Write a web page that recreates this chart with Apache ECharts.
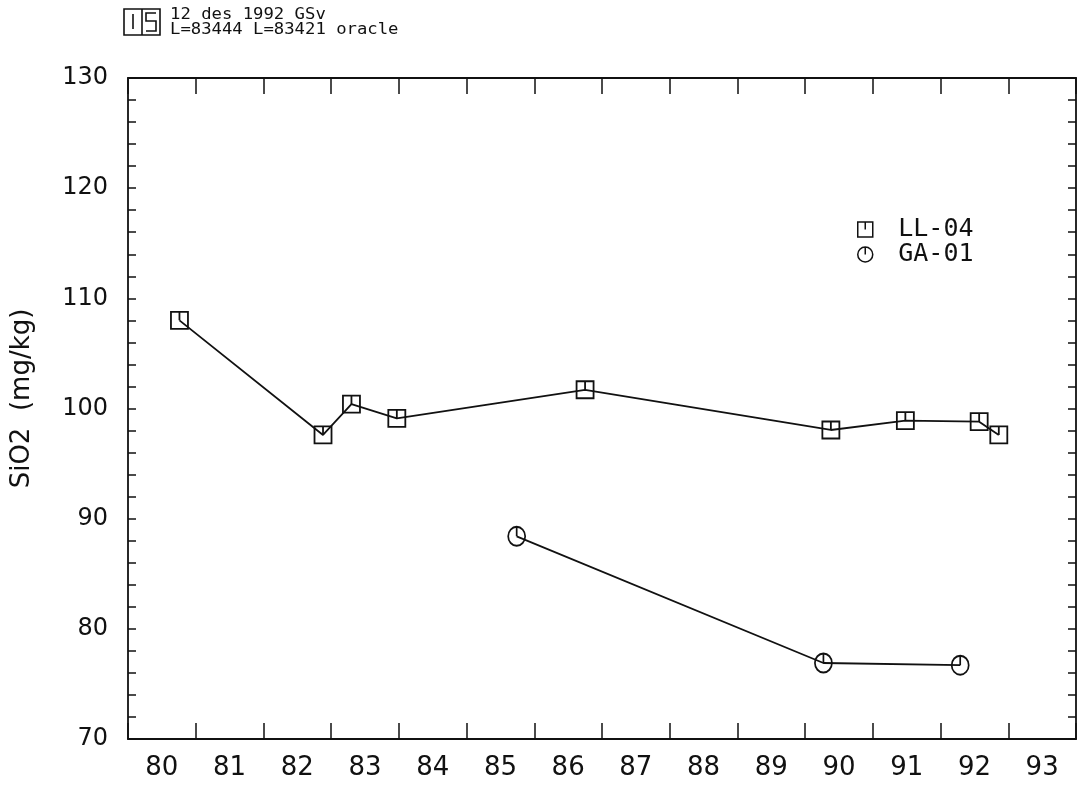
<!DOCTYPE html>
<html>
<head>
<meta charset="utf-8">
<script src="https://cdn.jsdelivr.net/npm/echarts@6/dist/echarts.min.js"></script>
<style>
html,body{margin:0;padding:0;background:#fff;}
#chart{width:1081px;height:789px;}
</style>
</head>
<body>
<div id="chart"></div>
<script>
// ---- data ----
const yearLabels = ['80','81','82','83','84','85','86','87','88','89','90','91','92','93'];
const ll04X = [80.76, 82.88, 83.30, 83.97, 86.75, 90.38, 91.48, 92.57, 92.86];
const ll04Y = [108.0, 97.6, 100.4, 99.1, 101.7, 98.05, 98.9, 98.8, 97.6];
const ga01X = [85.74, 90.27, 92.29];
const ga01Y = [88.4, 76.9, 76.7];
const seriesNames = ['LL-04', 'GA-01'];
const headerLine1 = '12 des 1992 GSv';
const headerLine2 = 'L=83444 L=83421 oracle';
const yAxisTitle = 'SiO2  (mg/kg)';

const squareSym = 'path://M0,0H10V10H0ZM5,0V5';
const circleSym = 'path://M0,5A5,5,0,1,1,10,5A5,5,0,1,1,0,5ZM5,0V5';

const ink = '#111';
const pairs = (xs, ys) => xs.map((x, i) => [x, ys[i]]);

const chart = echarts.init(document.getElementById('chart'));
const gridRect = {left: 128, top: 78, right: 5, bottom: 50};

chart.setOption({
  backgroundColor: '#fff',
  animation: false,
  textStyle: {fontFamily: 'DejaVu Sans', color: ink},
  grid: [
    Object.assign({containLabel: false}, gridRect),
    Object.assign({containLabel: false}, gridRect)
  ],
  legend: {
    orient: 'vertical',
    left: 852,
    top: 212,
    itemWidth: 46,
    itemHeight: 15,
    itemGap: 0,
    textStyle: {fontSize: 25, color: ink, fontFamily: 'DejaVu Sans Mono', lineHeight: 15, padding: [0, 0, 0, 5]},
    itemStyle: {color: 'rgba(0,0,0,0)', borderColor: ink, borderWidth: 1.5},
    data: [
      {name: seriesNames[0], icon: squareSym},
      {name: seriesNames[1], icon: circleSym}
    ]
  },
  xAxis: [
    {
      type: 'value', gridIndex: 0, min: 80, max: 94, interval: 1,
      show: false
    },
    {
      type: 'category', gridIndex: 1, position: 'bottom', data: yearLabels,
      boundaryGap: true,
      axisLine: {show: true, lineStyle: {color: ink, width: 1.8}},
      axisTick: {show: true, inside: true, length: 16, interval: 0, alignWithLabel: false, lineStyle: {color: ink, width: 1.5}},
      axisLabel: {show: true, interval: 0, fontSize: 26, color: ink, margin: 16, fontFamily: 'DejaVu Sans'},
      splitLine: {show: false}
    },
    {
      type: 'category', gridIndex: 1, position: 'top', data: yearLabels,
      boundaryGap: true,
      axisLine: {show: true, lineStyle: {color: ink, width: 1.8}},
      axisTick: {show: true, inside: true, length: 16, interval: 0, alignWithLabel: false, lineStyle: {color: ink, width: 1.5}},
      axisLabel: {show: false},
      splitLine: {show: false}
    }
  ],
  yAxis: [
    {
      type: 'value', gridIndex: 0, position: 'left', min: 70, max: 130, interval: 2,
      name: yAxisTitle, nameLocation: 'middle', nameGap: 93, nameRotate: 90,
      nameTextStyle: {fontSize: 26, color: ink, fontFamily: 'DejaVu Sans', padding: [0, 0, 0, 20]},
      axisLine: {show: true, lineStyle: {color: ink, width: 1.8}},
      axisTick: {show: true, inside: true, length: 8, lineStyle: {color: ink, width: 1.5}},
      axisLabel: {
        show: true, fontSize: 24, color: ink, margin: 20, fontFamily: 'DejaVu Sans',
        formatter: v => (v % 10 === 0 ? String(v) : '')
      },
      splitLine: {show: false}
    },
    {
      type: 'value', gridIndex: 0, position: 'right', min: 70, max: 130, interval: 2,
      axisLine: {show: true, lineStyle: {color: ink, width: 1.8}},
      axisTick: {show: true, inside: true, length: 8, lineStyle: {color: ink, width: 1.5}},
      axisLabel: {show: false},
      splitLine: {show: false}
    },
    {
      type: 'value', gridIndex: 1, min: 0, max: 1, show: false
    }
  ],
  series: [
    {
      name: seriesNames[0], type: 'line', xAxisIndex: 0, yAxisIndex: 0,
      data: pairs(ll04X, ll04Y),
      symbol: squareSym, symbolSize: [17, 17],
      color: ink,
      lineStyle: {color: ink, width: 1.8},
      itemStyle: {color: 'rgba(0,0,0,0)', borderColor: ink, borderWidth: 1.8},
      z: 3
    },
    {
      name: seriesNames[1], type: 'line', xAxisIndex: 0, yAxisIndex: 0,
      data: pairs(ga01X, ga01Y),
      symbol: circleSym, symbolSize: [17, 19],
      color: ink,
      lineStyle: {color: ink, width: 1.8},
      itemStyle: {color: 'rgba(0,0,0,0)', borderColor: ink, borderWidth: 1.8},
      z: 3
    }
  ],
  graphic: [
    {type: 'rect', shape: {x: 124, y: 9, width: 36, height: 26}, style: {fill: 'none', stroke: ink, lineWidth: 1.6}},
    {type: 'polyline', shape: {points: [[142, 9], [142, 35]]}, style: {stroke: ink, lineWidth: 1.6, fill: 'none'}},
    {type: 'polyline', shape: {points: [[133, 14], [133, 29]]}, style: {stroke: ink, lineWidth: 1.6, fill: 'none'}},
    {type: 'polyline', shape: {points: [[156, 13], [146, 13], [146, 21], [156, 21], [156, 31], [146, 31]]}, style: {stroke: ink, lineWidth: 1.6, fill: 'none'}},
    {type: 'text', x: 170, y: 15, scaleX: 1.15, style: {text: headerLine1, font: '15px "DejaVu Sans Mono"', fill: ink, textVerticalAlign: 'middle'}},
    {type: 'text', x: 170, y: 30, scaleX: 1.15, style: {text: headerLine2, font: '15px "DejaVu Sans Mono"', fill: ink, textVerticalAlign: 'middle'}}
  ]
});
</script>
</body>
</html>
